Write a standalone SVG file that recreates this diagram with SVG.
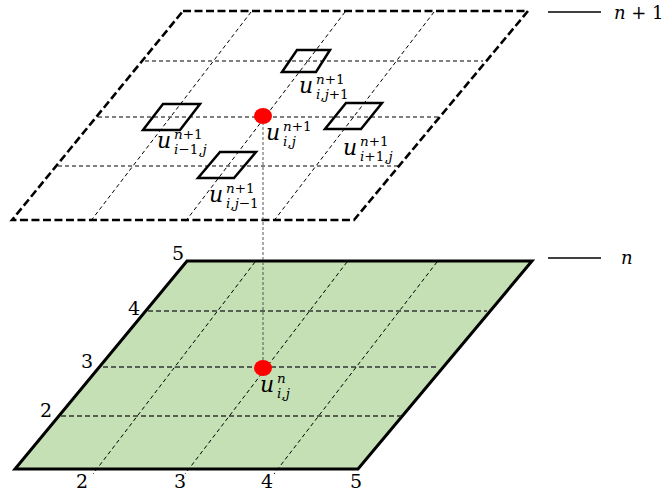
<svg xmlns="http://www.w3.org/2000/svg" width="663" height="495" viewBox="0 0 663 495">
<style>
.edgeTop{fill:none;stroke:#000;stroke-width:2.6;stroke-dasharray:8 3.5}
.gridTop{fill:none;stroke:#000;stroke-width:1;stroke-dasharray:4 3}
.edgeBot{fill:#c5e0b4;stroke:#000;stroke-width:3;stroke-linejoin:miter}
.gridH{fill:none;stroke:#333;stroke-width:1.4;stroke-dasharray:5 3}
.gridS{fill:none;stroke:#000;stroke-width:1;stroke-dasharray:4 3}
.cell{fill:none;stroke:#000;stroke-width:2.5;stroke-linejoin:miter}
.link{fill:none;stroke:#555;stroke-width:1;stroke-dasharray:3 2}
.dot{fill:#ff0000}
text{font-family:'DejaVu Serif','Liberation Serif',serif;fill:#000}
.mu{font-style:italic;font-size:22px}
.ms{font-size:13.5px}
.it{font-style:italic}
.num{font-size:19px}
.leg{font-size:18px}
</style>

<g id="plane-n">
  <polygon class="edgeBot" points="187,261 532,261 358,469 15,469"/>
  <line class="gridH" x1="148" y1="311" x2="487" y2="311"/>
  <line class="gridH" x1="103" y1="367" x2="439" y2="367"/>
  <line class="gridH" x1="61" y1="416" x2="401" y2="416"/>
  <line class="gridS" x1="255" y1="262" x2="93" y2="474"/>
  <line class="gridS" x1="347" y1="262" x2="185" y2="474"/>
  <line class="gridS" x1="437" y1="262" x2="274" y2="474"/>
</g>

<g id="plane-n1">
  <polygon class="edgeTop" points="183,11 528,11 354,220 12,220"/>
  <line class="gridTop" x1="145" y1="61" x2="483" y2="61"/>
  <line class="gridTop" x1="98" y1="117" x2="438" y2="117"/>
  <line class="gridTop" x1="58" y1="166" x2="398" y2="166"/>
  <line class="gridTop" x1="251" y1="12" x2="90" y2="222"/>
  <line class="gridTop" x1="345" y1="12" x2="185" y2="222"/>
  <line class="gridTop" x1="434" y1="12" x2="273" y2="222"/>
</g>

<g id="connectors">
  <line class="link" x1="263" y1="117" x2="263" y2="368"/>
</g>

<g id="cell-i-j-plus1"><polygon class="cell" points="297,50 330,50 316,72 282,72"/></g>
<g id="cell-i-minus1-j"><polygon class="cell" points="163,104 200,104 180,130 143,130"/></g>
<g id="cell-i-plus1-j"><polygon class="cell" points="346,103 382,103 361,129 325,129"/></g>
<g id="cell-i-j-minus1"><polygon class="cell" points="220,152 256,152 234,178 198,178"/></g>

<g id="dot-top"><ellipse class="dot" cx="263" cy="116" rx="9" ry="8"/></g>
<g id="dot-bottom"><ellipse class="dot" cx="263" cy="368" rx="9" ry="8"/></g>

<g id="label-u-i-jp1">
  <text class="mu" x="299" y="93">u</text>
  <text class="ms" x="316" y="84"><tspan class="it">n</tspan>+1</text>
  <text class="ms" x="316" y="99"><tspan class="it">i</tspan>,<tspan class="it">j</tspan>+1</text>
</g>
<g id="label-u-i-j">
  <text class="mu" x="266" y="140">u</text>
  <text class="ms" x="283" y="131"><tspan class="it">n</tspan>+1</text>
  <text class="ms" x="283" y="146"><tspan class="it">i</tspan>,<tspan class="it">j</tspan></text>
</g>
<g id="label-u-im1-j">
  <text class="mu" x="157" y="148">u</text>
  <text class="ms" x="174" y="139"><tspan class="it">n</tspan>+1</text>
  <text class="ms" x="174" y="154"><tspan class="it">i</tspan>−1,<tspan class="it">j</tspan></text>
</g>
<g id="label-u-ip1-j">
  <text class="mu" x="343" y="155">u</text>
  <text class="ms" x="360" y="146"><tspan class="it">n</tspan>+1</text>
  <text class="ms" x="360" y="161"><tspan class="it">i</tspan>+1,<tspan class="it">j</tspan></text>
</g>
<g id="label-u-i-jm1">
  <text class="mu" x="209" y="202">u</text>
  <text class="ms" x="226" y="193"><tspan class="it">n</tspan>+1</text>
  <text class="ms" x="226" y="208"><tspan class="it">i</tspan>,<tspan class="it">j</tspan>−1</text>
</g>
<g id="label-u-n">
  <text class="mu" x="260" y="392">u</text>
  <text class="ms it" x="277" y="383">n</text>
  <text class="ms" x="277" y="398"><tspan class="it">i</tspan>,<tspan class="it">j</tspan></text>
</g>

<g id="axis-labels">
  <text class="num" x="178" y="260" text-anchor="middle">5</text>
  <text class="num" x="134" y="315" text-anchor="middle">4</text>
  <text class="num" x="87" y="368" text-anchor="middle">3</text>
  <text class="num" x="46" y="417" text-anchor="middle">2</text>
  <text class="num" x="82" y="488" text-anchor="middle">2</text>
  <text class="num" x="180" y="488" text-anchor="middle">3</text>
  <text class="num" x="267" y="488" text-anchor="middle">4</text>
  <text class="num" x="356" y="488" text-anchor="middle">5</text>
</g>

<g id="legend-n1">
  <line x1="548" y1="12" x2="601" y2="12" stroke="#000" stroke-width="1.5"/>
  <text class="leg" x="614" y="19"><tspan class="it">n</tspan> + 1</text>
</g>
<g id="legend-n">
  <line x1="548" y1="258" x2="601" y2="258" stroke="#000" stroke-width="1.5"/>
  <text class="leg it" x="621" y="264">n</text>
</g>
</svg>
